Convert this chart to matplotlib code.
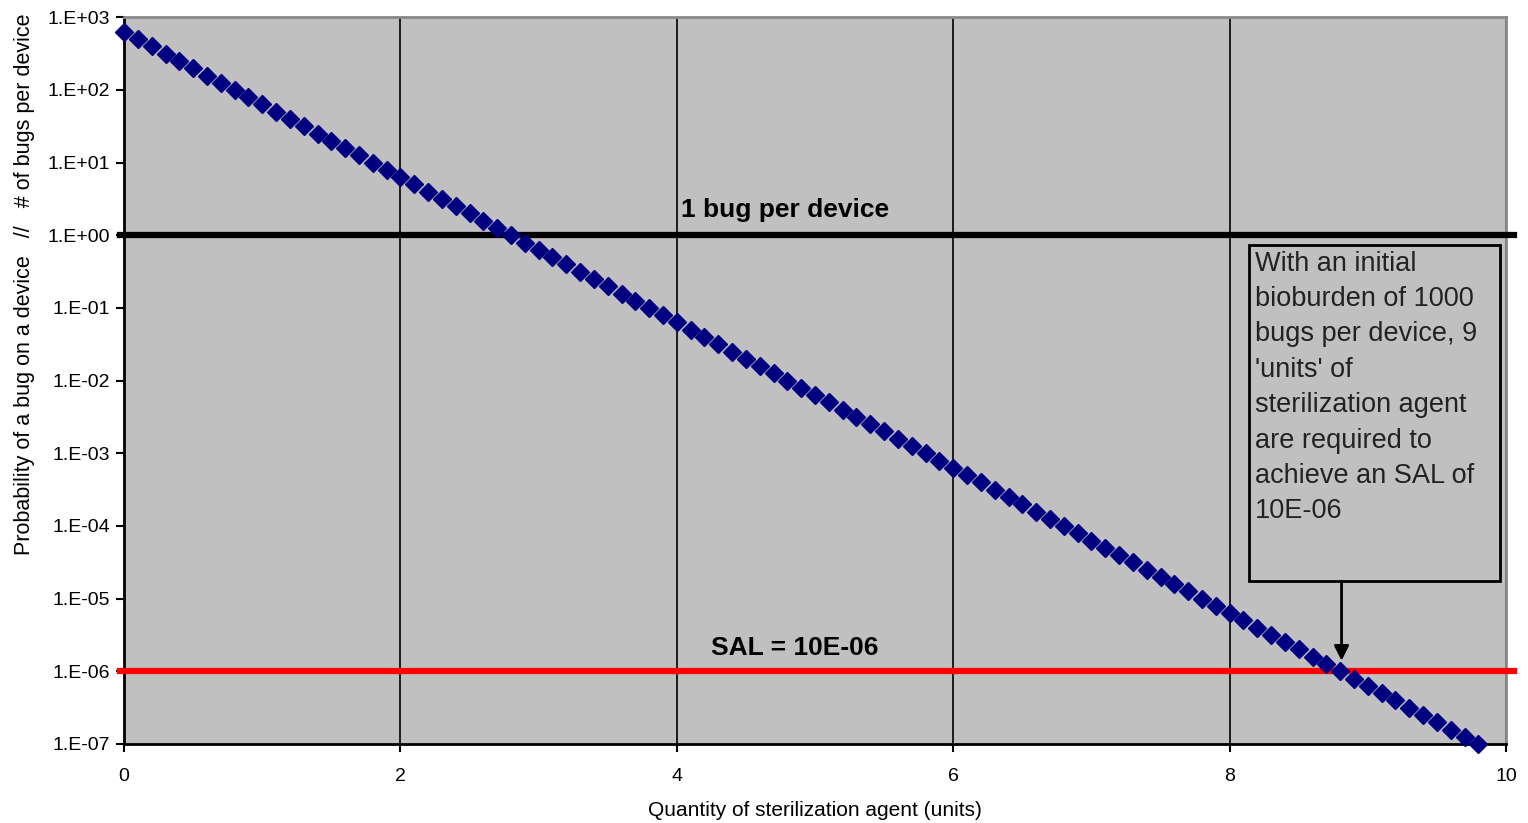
import matplotlib.pyplot as plt
from matplotlib.patches import Rectangle
from matplotlib.ticker import FixedLocator, FuncFormatter

plt.rcParams['font.family'] = ['Liberation Sans', 'DejaVu Sans']

# quantity of sterilization agent (units)
agent = [0.0, 0.1, 0.2, 0.3, 0.4, 0.5, 0.6, 0.7, 0.8, 0.9,
         1.0, 1.1, 1.2, 1.3, 1.4, 1.5, 1.6, 1.7, 1.8, 1.9,
         2.0, 2.1, 2.2, 2.3, 2.4, 2.5, 2.6, 2.7, 2.8, 2.9,
         3.0, 3.1, 3.2, 3.3, 3.4, 3.5, 3.6, 3.7, 3.8, 3.9,
         4.0, 4.1, 4.2, 4.3, 4.4, 4.5, 4.6, 4.7, 4.8, 4.9,
         5.0, 5.1, 5.2, 5.3, 5.4, 5.5, 5.6, 5.7, 5.8, 5.9,
         6.0, 6.1, 6.2, 6.3, 6.4, 6.5, 6.6, 6.7, 6.8, 6.9,
         7.0, 7.1, 7.2, 7.3, 7.4, 7.5, 7.6, 7.7, 7.8, 7.9,
         8.0, 8.1, 8.2, 8.3, 8.4, 8.5, 8.6, 8.7, 8.8, 8.9,
         9.0, 9.1, 9.2, 9.3, 9.4, 9.5, 9.6, 9.7, 9.8]

# bugs per device / probability of a bug
bugs = [631, 501, 398, 316, 251, 200, 158, 126, 100, 79.4,
        63.1, 50.1, 39.8, 31.6, 25.1, 20.0, 15.8, 12.6, 10.0, 7.94,
        6.31, 5.01, 3.98, 3.16, 2.51, 2.00, 1.58, 1.26, 1.00, 0.794,
        0.631, 0.501, 0.398, 0.316, 0.251, 0.200, 0.158, 0.126, 0.100, 7.94e-2,
        6.31e-2, 5.01e-2, 3.98e-2, 3.16e-2, 2.51e-2, 2.00e-2, 1.58e-2, 1.26e-2, 1.00e-2, 7.94e-3,
        6.31e-3, 5.01e-3, 3.98e-3, 3.16e-3, 2.51e-3, 2.00e-3, 1.58e-3, 1.26e-3, 1.00e-3, 7.94e-4,
        6.31e-4, 5.01e-4, 3.98e-4, 3.16e-4, 2.51e-4, 2.00e-4, 1.58e-4, 1.26e-4, 1.00e-4, 7.94e-5,
        6.31e-5, 5.01e-5, 3.98e-5, 3.16e-5, 2.51e-5, 2.00e-5, 1.58e-5, 1.26e-5, 1.00e-5, 7.94e-6,
        6.31e-6, 5.01e-6, 3.98e-6, 3.16e-6, 2.51e-6, 2.00e-6, 1.58e-6, 1.26e-6, 1.00e-6, 7.94e-7,
        6.31e-7, 5.01e-7, 3.98e-7, 3.16e-7, 2.51e-7, 2.00e-7, 1.58e-7, 1.26e-7, 1.00e-7]

one_bug = 1.0
sal = 1e-6
x_ticks = [0, 2, 4, 6, 8, 10]
y_ticks = [1e-7, 1e-6, 1e-5, 1e-4, 1e-3, 1e-2, 1e-1, 1e0, 1e1, 1e2, 1e3]
note = ("With an initial\nbioburden of 1000\nbugs per device, 9\n'units' of\n"
        "sterilization agent\nare required to\nachieve an SAL of\n10E-06")


def exp_label(v, pos):
    s = "%.0E" % v
    mant, ex = s.split("E")
    return mant + ".E" + ex


fig = plt.figure(figsize=(15.28, 8.23), dpi=100)
ax = fig.add_axes([0.0812, 0.096, 0.9044, 0.883])
ax.set_facecolor('#C0C0C0')
ax.set_yscale('log')
ax.set_xlim(0, 10)
ax.set_ylim(1e-7, 1e3)

ax.xaxis.set_major_locator(FixedLocator(x_ticks))
ax.yaxis.set_major_locator(FixedLocator(y_ticks))
ax.yaxis.set_minor_locator(FixedLocator([]))
ax.yaxis.set_major_formatter(FuncFormatter(exp_label))
ax.tick_params(axis='both', direction='out', length=6, width=1.5, labelsize=14,
               colors='black')
ax.tick_params(axis='x', pad=11)
ax.tick_params(axis='y', pad=4)
ax.grid(axis='x', color='black', linewidth=1.2)
ax.set_axisbelow(True)

for side in ['left', 'bottom']:
    ax.spines[side].set_color('black')
    ax.spines[side].set_linewidth(2)
for side in ['top', 'right']:
    ax.spines[side].set_color('#8a8a8a')
    ax.spines[side].set_linewidth(2)

ax.axhline(one_bug, xmin=-0.003, xmax=1.006, color='black', linewidth=4.5,
           clip_on=False, zorder=3)
ax.axhline(sal, xmin=-0.003, xmax=1.006, color='#FF0000', linewidth=4.5,
           clip_on=False, zorder=3)

ax.plot(agent, bugs, linestyle='none', marker='D', markersize=9,
        color='#000080', zorder=4, clip_on=False)

ax.text(4.78, 1.5, "1 bug per device", fontsize=19, fontweight='bold',
        ha='center', va='bottom')
ax.text(4.85, 1.45e-6, "SAL = 10E-06", fontsize=19, fontweight='bold',
        ha='center', va='bottom')

# annotation box with arrow
ax.add_patch(Rectangle((0.814, 0.224), 0.1817, 0.462, transform=ax.transAxes,
                       facecolor='#C0C0C0', edgecolor='black', linewidth=2,
                       zorder=5))
ax.text(0.8185, 0.679, note, transform=ax.transAxes, fontsize=19.5,
        color='#222222', ha='left', va='top', linespacing=1.47, zorder=6)
ax.annotate("", xy=(8.81, 1.4e-6), xytext=(8.81, 1.74e-5),
            arrowprops=dict(arrowstyle='-|>', color='black', lw=2,
                            mutation_scale=22, shrinkA=0, shrinkB=0),
            zorder=6)

ax.set_xlabel("Quantity of sterilization agent (units)", fontsize=15, labelpad=12)
fig.text(0.016, 0.655, "Probability of a bug on a device   //   # of bugs per device",
         rotation=90, fontsize=15.5, ha='center', va='center')

fig.savefig("out.png", dpi=100)
